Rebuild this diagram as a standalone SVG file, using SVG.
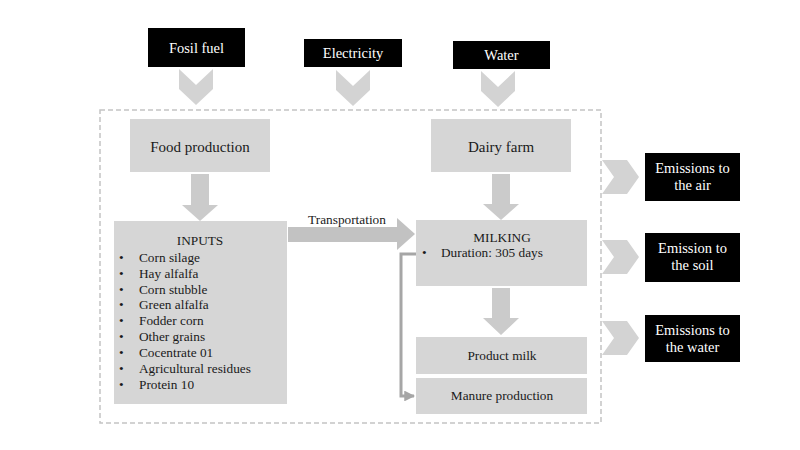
<svg xmlns="http://www.w3.org/2000/svg" width="800" height="450" viewBox="0 0 800 450">
<style>
.blk{fill:#000}
.wt{fill:#fff;font-family:"Liberation Serif","Times New Roman",serif;font-size:14.5px;text-anchor:middle}
.gbox{fill:#d6d6d6}
.gt{fill:#1a1a1a;font-family:"Liberation Serif","Times New Roman",serif;font-size:15px;text-anchor:middle}
.st{fill:#1a1a1a;font-family:"Liberation Serif","Times New Roman",serif;font-size:13.3px}
.chev{fill:#d3d3d3}
.arr{fill:#cbcbcb}
.tarr{fill:#c2c2c2}
.frame{fill:none;stroke:#c4c4c4;stroke-width:1.5;stroke-dasharray:5 3}
.elb{fill:none;stroke:#a6a6a6;stroke-width:3}
</style>
<defs>
<marker id="ah" viewBox="0 0 10 10" refX="9" refY="5" markerWidth="3.6" markerHeight="3.6" orient="auto" markerUnits="strokeWidth">
<path d="M0,0 L10,5 L0,10 z" fill="#a6a6a6"/>
</marker>
</defs>
<rect width="800" height="450" fill="#fff"/>
<rect id="boundary" class="frame" x="100" y="110" width="501" height="313"/>

<g id="fosil-fuel">
<rect class="blk" x="148" y="28" width="97" height="39"/>
<text class="wt" x="196.5" y="53">Fosil fuel</text>
</g>
<g id="electricity">
<rect class="blk" x="304" y="39" width="98" height="28"/>
<text class="wt" x="353" y="58">Electricity</text>
</g>
<g id="water">
<rect class="blk" x="453" y="41" width="97" height="28"/>
<text class="wt" x="501.5" y="60">Water</text>
</g>

<g id="food-production">
<rect class="gbox" x="130" y="119" width="140" height="53"/>
<text class="gt" x="200" y="152">Food production</text>
</g>
<g id="dairy-farm">
<rect class="gbox" x="431" y="119" width="140" height="53"/>
<text class="gt" x="501" y="152">Dairy farm</text>
</g>

<g id="inputs">
<rect class="gbox" x="114" y="221" width="173" height="183"/>
<text class="st" x="200" y="245" text-anchor="middle">INPUTS</text>
<g class="st">
<text x="119" y="262">•</text><text x="139" y="262">Corn silage</text>
<text x="119" y="278">•</text><text x="139" y="278">Hay alfalfa</text>
<text x="119" y="294">•</text><text x="139" y="294">Corn stubble</text>
<text x="119" y="309">•</text><text x="139" y="309">Green alfalfa</text>
<text x="119" y="325">•</text><text x="139" y="325">Fodder corn</text>
<text x="119" y="341">•</text><text x="139" y="341">Other grains</text>
<text x="119" y="357">•</text><text x="139" y="357">Cocentrate 01</text>
<text x="119" y="373">•</text><text x="139" y="373">Agricultural residues</text>
<text x="119" y="389">•</text><text x="139" y="389">Protein 10</text>
</g>
</g>

<g id="milking">
<rect class="gbox" x="416" y="220" width="171" height="66"/>
<text class="st" x="502" y="242" text-anchor="middle">MILKING</text>
<text class="st" x="422" y="257">•</text>
<text class="st" x="441" y="257">Duration: 305 days</text>
</g>
<g id="product-milk">
<rect class="gbox" x="416" y="337" width="171" height="37"/>
<text class="st" x="502" y="360" text-anchor="middle">Product milk</text>
</g>
<g id="manure-production">
<rect class="gbox" x="416" y="378" width="171" height="36"/>
<text class="st" x="502" y="400" text-anchor="middle">Manure production</text>
</g>

<g id="emissions-air">
<rect class="blk" x="645" y="153" width="95" height="48"/>
<text class="wt" x="692.5" y="173">Emissions to</text>
<text class="wt" x="692.5" y="190">the air</text>
</g>
<g id="emission-soil">
<rect class="blk" x="645" y="233" width="95" height="49"/>
<text class="wt" x="692.5" y="253">Emission to</text>
<text class="wt" x="692.5" y="270">the soil</text>
</g>
<g id="emissions-water">
<rect class="blk" x="645" y="315" width="95" height="47"/>
<text class="wt" x="692.5" y="335">Emissions to</text>
<text class="wt" x="692.5" y="352">the water</text>
</g>

<g id="connectors">
<polygon class="chev" points="179,69 196,85 213,69 213,89 196,105 179,89"/>
<polygon class="chev" points="336,70 353,86 370,70 370,90 353,106 336,90"/>
<polygon class="chev" points="481,71 498,87 515,71 515,91 498,107 481,91"/>
<polygon class="chev" points="602,160 627,160 639,177 627,194 602,194 614,177"/>
<polygon class="chev" points="602,240 627,240 639,257 627,274 602,274 614,257"/>
<polygon class="chev" points="602,321 627,321 639,338 627,355 602,355 614,338"/>
<polygon class="arr" points="191,174 209,174 209,205 218,205 200,221 182,205 191,205"/>
<polygon class="arr" points="492,174 510,174 510,204 519,204 501,220 483,204 492,204"/>
<polygon class="arr" points="492,288 510,288 510,318 519,318 501,335 483,318 492,318"/>
<polygon class="tarr" points="288,227 397,227 397,218 415,234 397,250 397,242 288,242"/>
<text class="st" x="347" y="224" text-anchor="middle">Transportation</text>
<polyline class="elb" points="416,254 401,254 401,396 414,396" marker-end="url(#ah)"/>
</g>
</svg>
